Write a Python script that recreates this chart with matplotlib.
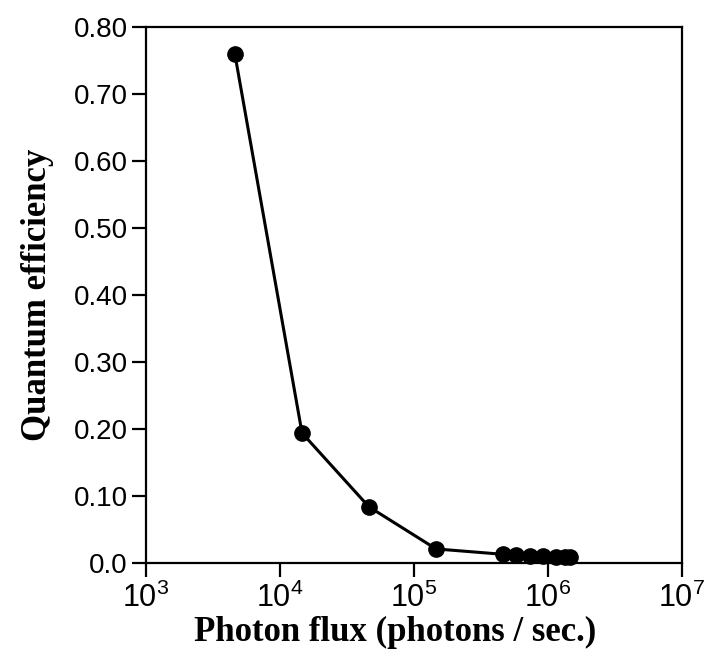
import matplotlib
matplotlib.use("Agg")
import matplotlib.pyplot as plt
from matplotlib.ticker import NullLocator

# photon flux (photons / sec.) and quantum efficiency
flux = [4.6e3, 1.46e4, 4.6e4, 1.46e5, 4.6e5, 5.8e5, 7.3e5, 9.2e5, 1.15e6, 1.34e6, 1.46e6]
qe = [0.760, 0.194, 0.084, 0.021, 0.013, 0.012, 0.011, 0.010, 0.009, 0.009, 0.009]

xticks = [1e3, 1e4, 1e5, 1e6, 1e7]
xlabels = ["$10^{3}$", "$10^{4}$", "$10^{5}$", "$10^{6}$", "$10^{7}$"]
yticks = [0.0, 0.1, 0.2, 0.3, 0.4, 0.5, 0.6, 0.7, 0.8]
ylabels = ["0.0", "0.10", "0.20", "0.30", "0.40", "0.50", "0.60", "0.70", "0.80"]

plt.rcParams["font.family"] = ["Liberation Sans", "DejaVu Sans"]
plt.rcParams["mathtext.default"] = "regular"

fig = plt.figure(figsize=(7.04, 6.53), dpi=100)
ax = fig.add_axes([146 / 704, 90 / 653, 536 / 704, 536 / 653])

ax.plot(flux, qe, color="black", lw=2.2, marker="o", ms=11, zorder=3, clip_on=False)

ax.set_xscale("log")
ax.set_xlim(1e3, 1e7)
ax.set_ylim(0, 0.8)
ax.set_xticks(xticks)
ax.set_xticklabels(xlabels)
ax.xaxis.set_minor_locator(NullLocator())
ax.set_yticks(yticks)
ax.set_yticklabels(ylabels)

for s in ax.spines.values():
    s.set_linewidth(1.6)
ax.tick_params(axis="both", which="major", direction="out", length=10, width=1.6,
               top=False, right=False)
ax.tick_params(axis="x", labelsize=22, pad=4)
ax.tick_params(axis="y", labelsize=20, pad=3)

ax.set_xlabel("Photon flux (photons / sec.)", family="Liberation Serif",
              fontweight="bold", fontsize=25)
ax.xaxis.set_label_coords(0.465, -0.098)
ax.set_ylabel("Quantum efficiency", family="Liberation Serif",
              fontweight="bold", fontsize=25, labelpad=14)

fig.savefig("out.png", dpi=100)
